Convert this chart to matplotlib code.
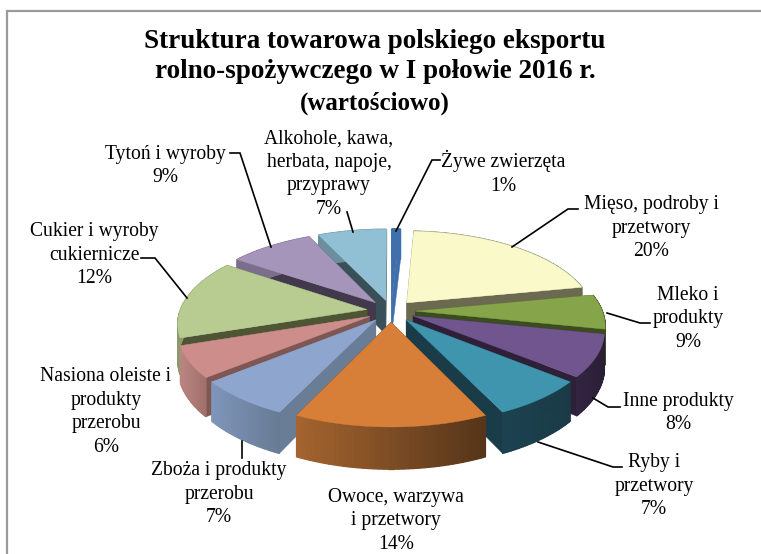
import numpy as np
import matplotlib
matplotlib.use("Agg")
import matplotlib.pyplot as plt
from matplotlib.colors import to_rgb

categories = [
    "Żywe zwierzęta",
    "Mięso, podroby i\nprzetwory",
    "Mleko i\nprodukty",
    "Inne produkty",
    "Ryby i\nprzetwory",
    "Owoce, warzywa\ni przetwory",
    "Zboża i produkty\nprzerobu",
    "Nasiona oleiste i\nprodukty\nprzerobu",
    "Cukier i wyroby\ncukiernicze",
    "Tytoń i wyroby",
    "Alkohole, kawa,\nherbata, napoje,\nprzyprawy",
]
# percentages printed on the chart
printed_percent = [1, 20, 9, 8, 7, 14, 7, 6, 12, 9, 7]
# slice sizes as measured from the slice edges in the picture, they do not
# follow the printed percentages exactly
slice_shares = [0.9, 21.0, 6.4, 7.7, 7.0, 14.0, 7.0, 5.8, 14.8, 8.5, 6.9]

top_colors = ["#3f70ab", "#faf9c9", "#86a44a", "#71558e", "#3f94ae", "#d77f38",
              "#8ea5cd", "#cd8d8a", "#b8cb90", "#a695ba", "#91c0d4"]
face_colors = ["#3f70ab", "#6b6a50", "#3b4c1f", "#2d2038", "#1a3c49", "#56351a",
               "#6a7d96", "#7e5654", "#4d5535", "#423a4c", "#3a5058"]
side_left = ["#3f70ab", "#6b6a50", "#3b4c1f", "#332542", "#1c4250", "#a5652f",
             "#7f96bb", "#bb8580", "#8a9a6c", "#7c6f8c", "#6c8f9e"]
side_right = ["#3f70ab", "#6b6a50", "#3b4c1f", "#2a1e35", "#1a3a46", "#56351a",
              "#687b94", "#a0706d", "#8a9a6c", "#7c6f8c", "#6c8f9e"]

label_pos = [(503, 172), (651, 227), (688, 318), (678, 412), (654, 485), (396, 520),
             (219, 493), (106, 411), (94, 254), (165, 165), (329, 173)]
leaders = [
    [(440, 160), (432, 160), (396, 231)],
    [(578, 209), (568, 209), (512, 247)],
    [(607, 313), (640, 323), (650, 323)],
    [(593, 398), (608, 407), (620, 407)],
    [(538, 442), (613, 467), (622, 467)],
    [(242, 441), (242, 458)],
    [(187, 298), (155, 258), (141, 258)],
    [(271, 247), (240, 153), (230, 153)],
    [(353, 232), (347, 212)],
]

title_lines = [("Struktura towarowa polskiego eksportu", 42, 19.55),
               ("rolno-spożywczego w I połowie 2016 r.", 72, 19.55),
               ("(wartościowo)", 103, 18)]

# pie geometry, in pixels of the output picture
cx, cy = 391, 311
rx, ry = 187, 85
persp = 0.152
depth = 35
explode = 0.13


def project(x, y, z=0.0):
    s = 1 / (1 + persp * y)
    return cx + rx * x * s, cy - ry * y * s + z * s


def mix(c1, c2, t):
    a, b = np.array(to_rgb(c1)), np.array(to_rgb(c2))
    return tuple(a + (b - a) * t)


plt.rcParams["font.family"] = ["Liberation Serif", "DejaVu Serif"]
fig = plt.figure(figsize=(7.61, 5.54), dpi=100)
ax = fig.add_axes([0, 0, 1, 1])
ax.set_xlim(0, 761)
ax.set_ylim(554, 0)
ax.axis("off")

# chart frame, the right and bottom edges are cut off in the source
ax.plot([7, 7, 761], [554, 11, 11], color="#9a9a9a", lw=1.6, solid_joinstyle="miter")

fractions = np.array(slice_shares) / sum(slice_shares)
edges = np.concatenate([[0], np.cumsum(fractions)]) * 2 * np.pi
mids = (edges[:-1] + edges[1:]) / 2

# back slices first so the front ones cover them
order = np.argsort(-np.cos(mids))
for i in order:
    t0, t1 = edges[i], edges[i + 1]
    ox = explode * np.sin(mids[i])
    oy = explode * np.cos(mids[i])
    arc = np.linspace(t0, t1, 40)
    xs = ox + np.sin(arc)
    ys = oy + np.cos(arc)

    # radial cut faces
    for k in (0, -1):
        quad = [project(ox, oy), project(xs[k], ys[k]),
                project(xs[k], ys[k], depth), project(ox, oy, depth)]
        ax.fill(*zip(*quad), color=face_colors[i], lw=0.3, zorder=2)

    # outer wall with a left to right gradient
    px = [project(a, b)[0] for a, b in zip(xs, ys)]
    lo, hi = min(px), max(px)
    for k in range(len(arc) - 1):
        quad = [project(xs[k], ys[k]), project(xs[k + 1], ys[k + 1]),
                project(xs[k + 1], ys[k + 1], depth), project(xs[k], ys[k], depth)]
        shade = mix(side_left[i], side_right[i], (px[k] - lo) / max(hi - lo, 1))
        ax.fill(*zip(*quad), color=shade, lw=0.9, zorder=2)

    outline = [project(ox, oy)] + [project(a, b) for a, b in zip(xs, ys)]
    ax.fill(*zip(*outline), color=top_colors[i], lw=0.3, zorder=2)

for line in leaders:
    ax.plot(*zip(*line), color="black", lw=1.2, zorder=3, solid_joinstyle="miter")

for name, pct, (lx, ly) in zip(categories, printed_percent, label_pos):
    ax.text(lx, ly + 1, f"{name}\n{pct}%", ha="center", va="center", fontsize=14.1,
            linespacing=1.32, color="black", zorder=4)

for text, ty, size in title_lines:
    ax.text(375, ty, text, ha="center", va="center", fontsize=size, fontweight="bold",
            color="black")

fig.savefig("out.png", dpi=100)
